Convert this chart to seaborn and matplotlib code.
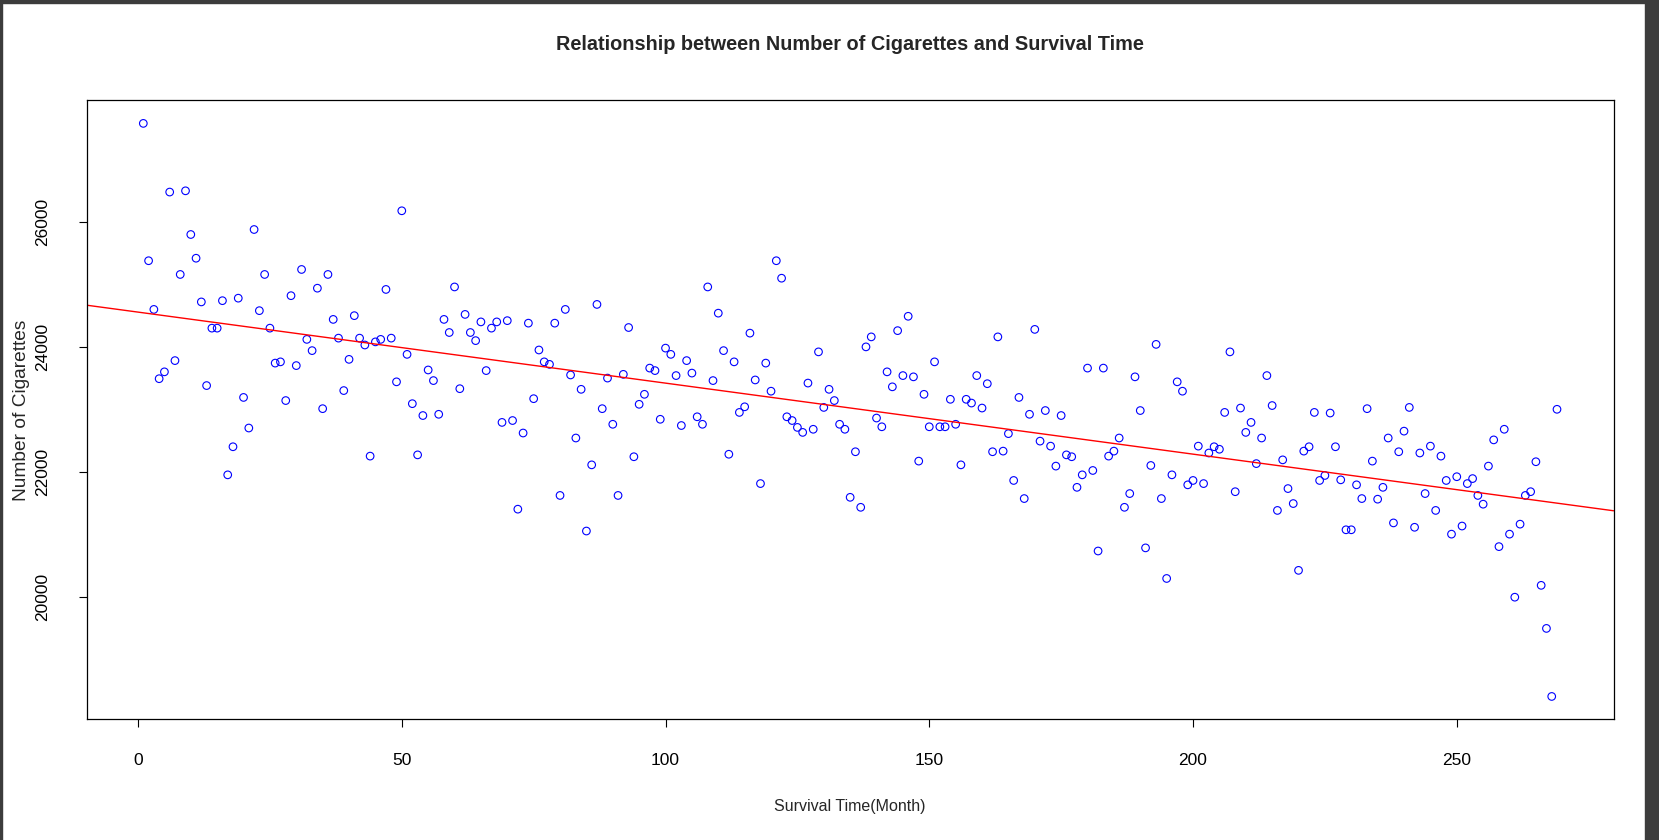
import numpy as np
import pandas as pd
import seaborn as sns
import matplotlib.pyplot as plt
from matplotlib.patches import Rectangle

# survival time in months (x) and number of cigarettes (y)
survival_time = [
    1, 2, 3, 4, 5, 6, 7, 8, 9, 10, 11, 12, 13, 14, 15, 16, 17, 18, 19, 20,
    21, 22, 23, 24, 25, 26, 27, 28, 29, 30, 31, 32, 33, 34, 35, 36, 37, 38, 39, 40,
    41, 42, 43, 44, 45, 46, 47, 48, 49, 50, 51, 52, 53, 54, 55, 56, 57, 58, 59, 60,
    61, 62, 63, 64, 65, 66, 67, 68, 69, 70, 71, 72, 73, 74, 75, 76, 77, 78, 79, 80,
    81, 82, 83, 84, 85, 86, 87, 88, 89, 90, 91, 92, 93, 94, 95, 96, 97, 98, 99, 100,
    101, 102, 103, 104, 105, 106, 107, 108, 109, 110, 111, 112, 113, 114, 115, 116, 117, 118, 119, 120,
    121, 122, 123, 124, 125, 126, 127, 128, 129, 130, 131, 132, 133, 134, 135, 136, 137, 138, 139, 140,
    141, 142, 143, 144, 145, 146, 147, 148, 149, 150, 151, 152, 153, 154, 155, 156, 157, 158, 159, 160,
    161, 162, 163, 164, 165, 166, 167, 168, 169, 170, 171, 172, 173, 174, 175, 176, 177, 178, 179, 180,
    181, 182, 183, 184, 185, 186, 187, 188, 189, 190, 191, 192, 193, 194, 195, 196, 197, 198, 199, 200,
    201, 202, 203, 204, 205, 206, 207, 208, 209, 210, 211, 212, 213, 214, 215, 216, 217, 218, 219, 220,
    221, 222, 223, 224, 225, 226, 227, 228, 229, 230, 231, 232, 233, 234, 235, 236, 237, 238, 239, 240,
    241, 242, 243, 244, 245, 246, 247, 248, 249, 250, 251, 252, 253, 254, 255, 256, 257, 258, 259, 260,
    261, 262, 263, 264, 265, 266, 267, 268, 269,
]
cigarettes = [
    27580, 25380, 24600, 23490, 23600, 26480, 23780, 25160, 26500, 25800,
    25420, 24720, 23380, 24300, 24300, 24740, 21950, 22400, 24780, 23190,
    22700, 25880, 24580, 25160, 24300, 23740, 23760, 23140, 24820, 23700,
    25240, 24120, 23940, 24940, 23010, 25160, 24440, 24140, 23300, 23800,
    24500, 24140, 24030, 22250, 24080, 24120, 24920, 24140, 23440, 26180,
    23880, 23090, 22270, 22900, 23630, 23460, 22920, 24440, 24230, 24960,
    23330, 24520, 24230, 24100, 24400, 23620, 24300, 24400, 22790, 24420,
    22820, 21400, 22620, 24380, 23170, 23950, 23760, 23720, 24380, 21620,
    24600, 23550, 22540, 23320, 21050, 22110, 24680, 23010, 23500, 22760,
    21620, 23560, 24310, 22240, 23080, 23240, 23660, 23620, 22840, 23980,
    23880, 23540, 22740, 23780, 23580, 22880, 22760, 24960, 23460, 24540,
    23940, 22280, 23760, 22950, 23040, 24220, 23470, 21810, 23740, 23290,
    25380, 25100, 22880, 22820, 22710, 22630, 23420, 22680, 23920, 23030,
    23320, 23140, 22760, 22680, 21590, 22320, 21430, 24000, 24160, 22860,
    22720, 23600, 23360, 24260, 23540, 24490, 23520, 22170, 23240, 22720,
    23760, 22720, 22720, 23160, 22760, 22110, 23160, 23100, 23540, 23020,
    23410, 22320, 24160, 22330, 22610, 21860, 23190, 21570, 22920, 24280,
    22490, 22980, 22410, 22090, 22900, 22270, 22240, 21750, 21950, 23660,
    22020, 20730, 23660, 22250, 22330, 22540, 21430, 21650, 23520, 22980,
    20780, 22100, 24040, 21570, 20290, 21950, 23440, 23290, 21790, 21860,
    22410, 21810, 22300, 22400, 22360, 22950, 23920, 21680, 23020, 22630,
    22790, 22130, 22540, 23540, 23060, 21380, 22190, 21730, 21490, 20420,
    22330, 22400, 22950, 21860, 21940, 22940, 22400, 21870, 21070, 21070,
    21790, 21570, 23010, 22170, 21560, 21750, 22540, 21180, 22320, 22650,
    23030, 21110, 22300, 21650, 22410, 21380, 22250, 21860, 21000, 21920,
    21130, 21810, 21890, 21620, 21480, 22090, 22510, 20800, 22680, 21000,
    19990, 21160, 21620, 21680, 22160, 20180, 19490, 18400, 23000,
]
x_ticks = [0, 50, 100, 150, 200, 250]
y_ticks = [20000, 22000, 24000, 26000]

df = pd.DataFrame({"survival_time": survival_time, "cigarettes": cigarettes})

sns.set_theme(style="ticks")
plt.rcParams["font.family"] = ["Liberation Sans", "DejaVu Sans"]

fig = plt.figure(figsize=(16.59, 8.40), dpi=100)
ax = fig.add_axes([0.0523, 0.1436, 0.9203, 0.7368])

sns.scatterplot(data=df, x="survival_time", y="cigarettes", ax=ax,
                marker="o", s=30, facecolors="none", edgecolor="blue",
                linewidth=0.8)

# R style axis range (4% padding)
xr = max(survival_time) - min(survival_time)
yr = max(cigarettes) - min(cigarettes)
xlim = (min(survival_time) - 0.04 * xr, max(survival_time) + 0.04 * xr)
ylim = (min(cigarettes) - 0.04 * yr, max(cigarettes) + 0.04 * yr)
ax.set_xlim(*xlim)
ax.set_ylim(*ylim)

# fitted line, like abline(lm(...))
sns.regplot(data=df, x="survival_time", y="cigarettes", ax=ax,
            scatter=False, ci=None, truncate=False,
            line_kws={"color": "red", "linewidth": 1.0})
ax.set_xlim(*xlim)
ax.set_ylim(*ylim)

ax.set_xticks(x_ticks)
ax.set_yticks(y_ticks)
ax.set_xticklabels([str(v) for v in x_ticks])
ax.set_yticklabels([str(v) for v in y_ticks], rotation=90, va="center")
ax.tick_params(axis="both", direction="out", length=5.5, width=0.8,
               color="black", labelsize=12.5, labelcolor="black")
ax.tick_params(axis="x", pad=19)
ax.tick_params(axis="y", pad=21)
for sp in ax.spines.values():
    sp.set_visible(True)
    sp.set_color("black")
    sp.set_linewidth(0.9)

ax.set_xlabel("Survival Time(Month)", fontsize=11.5, va="center")
ax.xaxis.set_label_coords(0.5, -0.1415)
ax.set_ylabel("Number of Cigarettes", fontsize=13.8, va="center", ha="center")
ax.yaxis.set_label_coords(-0.0425, 0.5)
ax.set_title("Relationship between Number of Cigarettes and Survival Time",
             fontsize=14.3, fontweight="bold", y=1.0767, va="center")

# dark window frame around the screenshot (top, left, right edge)
frame = "#3c3c3c"
fig.patches.append(Rectangle((0, 0.996), 1, 0.004, transform=fig.transFigure,
                             color=frame, zorder=0))
fig.patches.append(Rectangle((0, 0), 0.0015, 1, transform=fig.transFigure,
                             color=frame, zorder=0))
fig.patches.append(Rectangle((0.9917, 0), 0.0083, 1, transform=fig.transFigure,
                             color=frame, zorder=0))

fig.savefig("out.png", dpi=100, facecolor="white")
